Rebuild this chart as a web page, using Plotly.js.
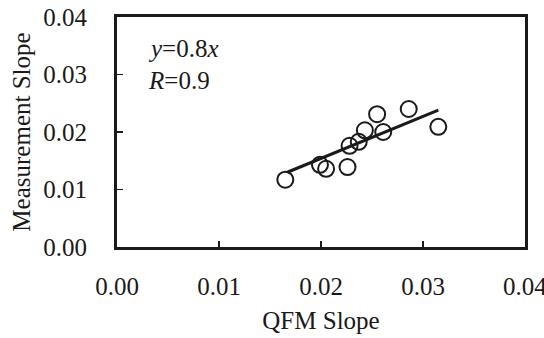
<!DOCTYPE html>
<html>
<head>
<meta charset="utf-8">
<script src="https://cdn.plot.ly/plotly-3.0.1.min.js"></script>
<style>html,body{margin:0;padding:0;background:#fff;}#chart{width:544px;height:338px;}</style>
</head>
<body>
<div id="chart"></div>
<script>
// Data
var qfmSlope = [0.0165, 0.0199, 0.0205, 0.0226, 0.0228, 0.0237, 0.0243, 0.0255, 0.0261, 0.0286, 0.0315];
var measSlope = [0.0117, 0.0143, 0.0136, 0.0139, 0.0176, 0.0183, 0.0203, 0.0231, 0.0200, 0.0240, 0.0209];
var fitX = [0.0167, 0.0315];
var fitY = [0.0130, 0.0238];
var tickVals = [0, 0.01, 0.02, 0.03, 0.04];
var tickText = ["0.00", "0.01", "0.02", "0.03", "0.04"];
var eqText = "<i>y</i>=0.8<i>x</i>";
var rText = "<i>R</i>=0.9";

var font = "'Liberation Serif', 'Times New Roman', serif";
var ink = "#1a1a1a";

var traces = [
  {x: fitX, y: fitY, mode: "lines", type: "scatter", line: {color: ink, width: 3}, hoverinfo: "none"},
  {x: qfmSlope, y: measSlope, mode: "markers", type: "scatter",
   marker: {symbol: "circle-open", size: 16, color: ink, line: {width: 2, color: ink}}}
];

var axisCommon = {
  range: [-0.0000001, 0.0400001], tickvals: tickVals, ticktext: tickText,
  showgrid: false, zeroline: false, showline: true, linecolor: ink, linewidth: 3,
  mirror: true, ticks: "inside", ticklen: 6, tickwidth: 1.5, tickcolor: ink,
  tickfont: {family: font, size: 25, color: ink}
};

var layout = {
  width: 544, height: 338,
  margin: {l: 117, r: 19, t: 17, b: 91},
  paper_bgcolor: "#fff", plot_bgcolor: "#fff",
  showlegend: false,
  font: {family: font},
  xaxis: Object.assign({}, axisCommon, {
    ticklabelstandoff: 15,
    title: {text: "QFM Slope", font: {family: font, size: 25, color: ink}, standoff: 13}
  }),
  yaxis: Object.assign({}, axisCommon, {
    ticklabelstandoff: 22,
    title: {text: "Measurement Slope", font: {family: font, size: 25, color: ink}, standoff: 6}
  }),
  annotations: [
    {x: 0.0028, y: 0.0346, xref: "x", yref: "y", text: eqText, showarrow: false, xanchor: "left", yanchor: "middle",
     font: {family: font, size: 25, color: ink}},
    {x: 0.0028, y: 0.0290, xref: "x", yref: "y", text: rText, showarrow: false, xanchor: "left", yanchor: "middle",
     font: {family: font, size: 25, color: ink}},
    {x: tickVals[4], y: -0.106, xref: "x", yref: "paper", text: tickText[4], showarrow: false,
     xanchor: "center", yanchor: "top", font: {family: font, size: 25, color: ink}}
  ]
};

Plotly.newPlot("chart", traces, layout, {staticPlot: true, displayModeBar: false});
</script>
</body>
</html>
